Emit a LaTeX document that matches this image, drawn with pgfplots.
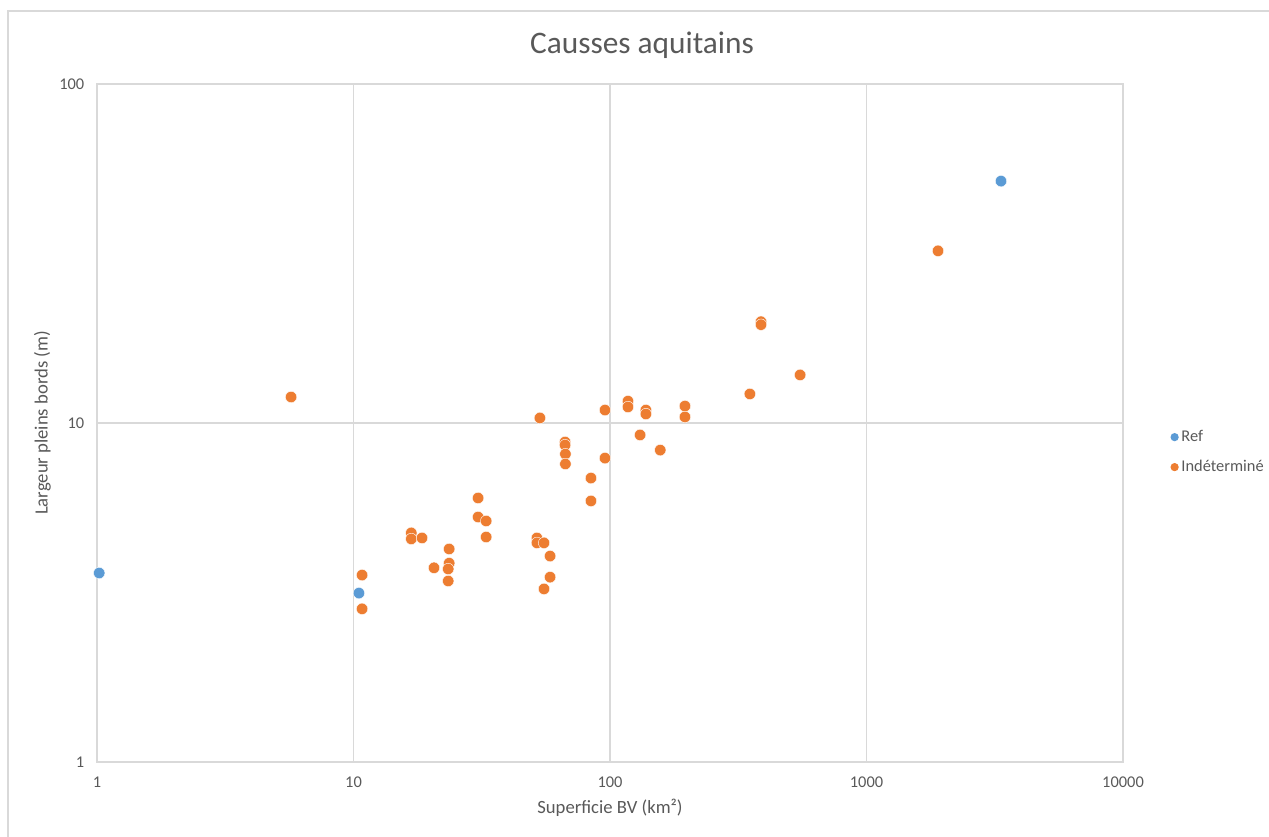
\documentclass[border=0pt]{standalone}
\usepackage{pgfplots}
\pgfplotsset{compat=1.18}
\usepackage{fontspec}
\setmainfont{Carlito}
\definecolor{refblue}{HTML}{5B9BD5}
\definecolor{indorange}{HTML}{ED7D31}
\definecolor{txtgray}{HTML}{595959}
\definecolor{gridgray}{HTML}{D9D9D9}

\begin{document}
\begin{tikzpicture}
\begin{axis}[
    scale only axis,
    width=769.5pt, height=508.5pt,
    xmode=log, ymode=log,
    xmin=1, xmax=10000,
    ymin=1, ymax=100,
    xtick={1,10,100,1000,10000},
    xticklabels={1,10,100,1000,10000},
    ytick={1,10,100},
    yticklabels={1,10,100},
    major tick length=0pt,
    minor tick length=0pt,
    grid=major,
    major grid style={gridgray, line width=0.8pt},
    axis line style={gridgray, line width=0.8pt},
    ticklabel style={font=\fontsize{12.3}{14}\selectfont, text=txtgray},
    xticklabel style={yshift=-7.5pt},
    yticklabel style={xshift=-6pt},
    xlabel={Superficie BV (km²)},
    ylabel={Largeur pleins bords (m)},
    label style={font=\fontsize{14}{16}\selectfont, text=txtgray},
    xlabel style={at={(axis description cs:0.5,0)}, anchor=center, yshift=-34pt},
    every axis y label/.append style={at={(axis description cs:0,0.5)}, anchor=center, yshift=41pt},
    legend style={at={(1.046,0.457)}, anchor=west, draw=none, fill=none,
        font=\fontsize{12.3}{14}\selectfont, text=txtgray, row sep=8.5pt,
        inner sep=0pt},
    legend image code/.code={\fill[#1, draw=none] (0.1cm,0cm) circle (3.1pt);},
    legend cell align=left,
]
% Ref
\addplot[only marks, color=refblue, mark=*, mark size=4.3pt,
    mark options={fill=refblue, draw=white, line width=0.3pt}] coordinates {
    (1.02,3.61) (10.5,3.15) (3345,51.7)
};
\addlegendentry{Ref}
% Indetermine
\addplot[only marks, color=indorange, mark=*, mark size=4.3pt,
    mark options={fill=indorange, draw=white, line width=0.3pt}] coordinates {
    (5.71,11.93) (1900,32.2) (388,19.9) (388,19.5) (551,13.86)
    (351,12.18) (196,11.22) (196,10.42) (117.5,11.6) (117.5,11.15)
    (138,10.92) (138,10.63) (95.6,10.92) (53.3,10.35) (131,9.22)
    (157,8.32) (66.8,8.79) (66.8,8.61) (67,8.10) (67,7.57)
    (95.6,7.88) (84.3,6.88) (84.3,5.89) (30.6,6.01) (30.6,5.28)
    (32.9,5.14) (32.9,4.61) (16.8,4.74) (16.8,4.55) (18.5,4.58)
    (23.6,4.25) (23.6,3.86) (23.4,3.71) (20.6,3.74) (23.4,3.42)
    (10.8,3.56) (10.8,2.83) (51.9,4.58) (51.9,4.43) (55.3,4.43)
    (58.4,4.05) (58.4,3.51) (55.3,3.24)
};
\addlegendentry{Indéterminé}
\end{axis}
\node[font=\fontsize{23.5}{27}\selectfont, text=txtgray] at (408.75pt,537.75pt) {Causses aquitains};
\draw[gridgray, line width=1.1pt] (-66.75pt,-60pt) -- (-66.75pt,563.25pt) -- (885pt,563.25pt);
\pgfresetboundingbox
\useasboundingbox (-72.75pt,-55.5pt) rectangle (879pt,571.5pt);
\end{tikzpicture}
\end{document}
